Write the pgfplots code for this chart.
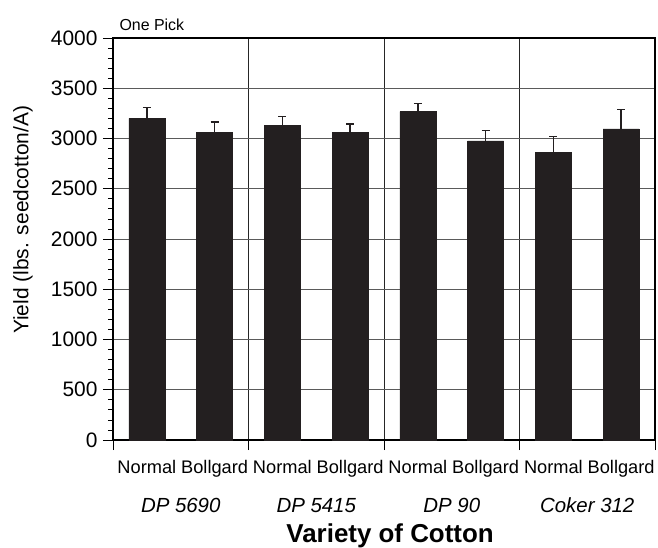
\documentclass[border=0pt]{standalone}
\usepackage{fontspec}
\setmainfont{Liberation Sans}
\usepackage{pgfplots}
\pgfplotsset{compat=1.18}
\definecolor{barc}{RGB}{35,31,32}
\definecolor{gridc}{RGB}{90,90,90}
\begin{document}
\begin{tikzpicture}
\useasboundingbox (-113bp,-108bp) rectangle (545bp,440bp);
\begin{axis}[
  at={(0,0)}, anchor=origin,
  scale only axis, width=542bp, height=402bp,
  xmin=0, xmax=8, ymin=0, ymax=4000,
  axis line style={line width=1.1pt, black},
  /pgf/number format/assume math mode=true,
  ytick={0,500,...,4000},
  minor y tick num=4,
  ytick pos=left,
  tick align=outside,
  major tick length=10bp, minor tick length=5bp,
  tick style={black, line width=0.8pt},
  yticklabel style={font=\fontsize{21}{24}\selectfont, /pgf/number format/1000 sep={}, xshift=-2bp},
  ymajorgrids, grid style={gridc, line width=0.7pt},
  major x grid style={black!85, line width=0.7pt},
  xtick={0,2,4,6,8},
  xticklabels={},
  xtick pos=bottom,
  xmajorgrids,
  extra x ticks={0.5,1.5,...,7.5},
  extra x tick labels={Normal,Bollgard,Normal,Bollgard,Normal,Bollgard,Normal,Bollgard},
  extra x tick style={major tick length=0pt, grid=none, xticklabel style={font=\fontsize{18.3}{21}\selectfont, yshift=-17bp}},
  clip=false,
]
\addplot[ybar, bar width=36bp, fill=barc, draw=barc,
  error bars/.cd, y dir=plus, y explicit,
  error bar style={line width=1.3pt, barc},
  error mark options={rotate=90, mark size=4bp, line width=1.3pt, barc}]
  coordinates {
  (0.5,3201) +- (0,106)
  (1.5,3059) +- (0,106)
  (2.5,3132) +- (0,86)
  (3.5,3063) +- (0,82)
  (4.5,3267) +- (0,80)
  (5.5,2977) +- (0,106)
  (6.5,2865) +- (0,155)
  (7.5,3096) +- (0,191)
  };
\node[font=\fontsize{20.5}{24}\selectfont\itshape, anchor=base] at (axis cs:1,0) [yshift=-72bp] {DP 5690};
\node[font=\fontsize{20.5}{24}\selectfont\itshape, anchor=base] at (axis cs:3,0) [yshift=-72bp] {DP 5415};
\node[font=\fontsize{20.5}{24}\selectfont\itshape, anchor=base] at (axis cs:5,0) [yshift=-72bp] {DP 90};
\node[font=\fontsize{20.5}{24}\selectfont\itshape, anchor=base] at (axis cs:7,0) [yshift=-72bp] {Coker 312};
\node[font=\fontsize{26}{29}\selectfont\bfseries] at (axis cs:4.09,0) [yshift=-96bp] {Variety of Cotton};
\node[font=\fontsize{21}{24}\selectfont, rotate=90] at (axis cs:-1.33,2190) {Yield (lbs. seedcotton/A)};
\node[font=\fontsize{16}{19}\selectfont, anchor=base west] at (rel axis cs:0,1) [xshift=3bp, yshift=8bp] {One Pick};
\end{axis}
\end{tikzpicture}
\end{document}
